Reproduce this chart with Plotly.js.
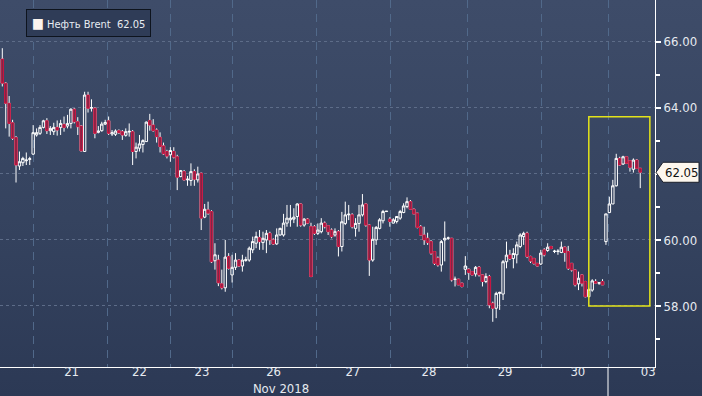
<!DOCTYPE html>
<html><head><meta charset="utf-8">
<script src="https://cdn.plot.ly/plotly-3.0.1.min.js"></script>
<style>
html,body{margin:0;padding:0;width:702px;height:396px;overflow:hidden;
background:linear-gradient(to bottom,#3e4c69 0%,#35435f 55%,#2c3955 100%);}
#chart{width:702px;height:396px;}
</style></head><body><div id="chart"></div>
<script>
// Hourly Brent candles, 20 Nov - 03 Dec 2018
const openP = [65.48,64.75,64.14,63.55,63.10,62.24,62.34,62.40,62.44,62.60,63.18,63.23,63.41,63.61,63.31,63.28,63.41,63.41,63.50,63.45,63.53,63.96,63.58,63.45,62.68,64.39,63.99,63.99,63.26,63.31,63.51,63.61,63.21,63.20,63.31,63.28,63.17,63.27,63.28,62.68,62.78,62.89,62.98,63.62,63.48,63.33,63.11,62.85,62.68,62.58,62.68,62.52,61.92,62.07,61.82,61.80,62.07,61.82,62.02,60.69,60.91,60.86,59.37,59.39,58.67,58.55,59.50,58.94,59.17,59.39,59.21,59.38,59.39,59.70,59.90,60.07,59.92,60.00,60.20,60.00,59.88,60.15,60.15,60.51,60.61,60.63,60.71,61.09,60.45,60.63,60.40,60.40,60.20,60.25,60.51,60.43,60.30,60.15,60.25,59.80,60.50,60.76,60.76,60.35,60.50,60.76,61.09,60.45,59.39,60.00,60.35,60.58,60.86,60.63,60.51,60.56,60.66,60.83,61.01,61.16,60.93,60.81,60.40,60.15,60.05,59.95,59.65,59.45,59.24,60.00,60.05,60.05,58.80,58.81,58.69,59.11,59.11,59.04,58.97,59.17,58.94,58.74,58.89,58.08,57.93,58.38,58.36,59.34,59.54,59.44,59.55,59.80,60.10,60.20,59.50,59.44,59.29,59.27,59.70,59.68,59.80,59.65,59.65,59.62,59.78,59.65,59.29,59.09,58.67,58.94,58.74,58.28,58.48,58.74,58.69,58.74,59.95,60.83,61.09,61.64,62.47,62.30,62.52,62.40,62.14,62.42,62.17];
const highP = [65.81,64.78,64.36,63.64,63.15,62.68,62.52,62.65,62.52,63.48,63.38,63.48,63.64,63.69,63.45,63.55,63.62,63.64,63.74,63.79,63.99,63.99,63.72,63.48,64.49,64.49,64.26,64.02,63.45,63.58,63.64,63.74,63.33,63.35,63.35,63.33,63.38,63.53,63.33,62.95,63.18,63.05,63.59,63.82,63.66,63.38,63.26,62.95,62.73,62.81,62.81,62.58,62.12,62.12,61.94,62.32,62.14,62.22,62.04,61.09,61.16,60.90,59.90,59.55,59.10,60.00,59.60,59.55,59.60,59.42,59.55,59.49,59.80,60.10,60.25,60.30,60.25,60.30,60.25,60.05,60.35,60.37,60.79,61.06,61.06,60.96,61.11,61.11,60.66,60.66,60.52,60.45,60.50,60.66,60.56,60.45,60.35,60.35,60.30,60.85,61.16,61.06,60.81,60.66,61.06,61.39,61.11,60.47,60.40,60.42,60.66,60.91,60.87,60.69,60.66,60.72,60.91,61.11,61.29,61.21,60.95,60.82,60.45,60.40,60.22,60.00,59.65,59.50,60.00,60.56,60.10,60.06,58.89,58.82,58.70,59.51,59.14,59.06,59.21,59.21,58.95,58.99,58.94,58.13,58.43,58.43,59.39,59.95,59.70,59.75,59.95,60.20,60.25,60.25,59.52,59.45,59.30,59.70,59.75,59.90,59.82,59.70,59.72,59.95,59.80,59.82,59.30,59.10,59.04,58.96,58.76,58.55,58.81,58.81,58.72,58.81,60.79,61.31,61.82,62.61,62.52,62.55,62.53,62.42,62.47,62.45,62.18];
const lowP = [64.65,63.38,63.13,63.03,61.74,62.12,62.24,62.27,62.27,62.58,63.13,63.18,63.38,63.21,63.18,63.18,63.16,63.18,63.28,63.38,63.38,63.53,63.18,62.68,62.68,63.86,63.89,63.08,63.23,63.28,63.48,63.18,63.15,63.15,63.21,63.03,63.13,63.13,62.27,62.47,62.68,62.65,62.98,63.31,63.28,62.95,62.65,62.58,62.47,62.37,62.47,61.51,61.90,61.80,61.64,61.64,61.64,61.74,60.30,60.66,60.76,59.30,59.10,58.60,58.50,58.43,59.10,58.71,59.09,59.18,59.04,59.34,59.34,59.60,59.75,59.70,59.70,59.60,59.85,59.85,59.85,60.13,60.10,60.40,60.40,60.51,60.40,60.40,60.40,60.48,58.89,60.15,60.15,60.20,60.35,60.15,60.05,60.10,59.50,59.65,60.45,60.60,60.35,60.10,60.25,60.71,60.40,58.91,59.34,59.85,60.32,60.50,60.85,60.40,60.50,60.50,60.61,60.81,60.96,60.91,60.79,60.35,60.15,59.85,59.85,59.55,59.24,59.19,59.04,59.35,60.00,58.74,58.59,58.64,58.56,58.94,58.79,58.93,58.89,58.89,58.59,58.69,57.93,57.52,57.63,57.88,58.18,59.14,59.39,59.14,59.29,59.75,59.85,59.45,59.30,59.25,59.20,59.24,59.50,59.64,59.72,59.60,59.55,59.60,59.34,59.09,59.04,58.59,58.48,58.59,58.26,58.26,58.43,58.69,58.64,58.64,59.85,60.81,61.09,61.62,62.25,62.27,62.32,62.07,62.04,62.17,61.57];
const closeP = [64.75,64.14,63.53,63.08,62.27,62.37,62.47,62.42,62.46,63.25,63.25,63.41,63.61,63.31,63.38,63.41,63.33,63.53,63.41,63.53,63.96,63.58,63.43,62.70,64.39,63.99,64.01,63.23,63.30,63.51,63.56,63.23,63.25,63.30,63.25,63.18,63.28,63.29,62.68,62.81,62.91,63.01,63.57,63.48,63.31,63.13,62.83,62.61,62.54,62.71,62.51,61.90,62.10,61.82,61.84,62.07,61.84,62.00,60.66,60.93,60.81,59.34,59.55,58.70,58.55,59.48,59.14,59.17,59.39,59.21,59.39,59.40,59.75,59.95,60.10,59.95,60.05,60.20,60.00,59.88,60.15,60.35,60.51,60.66,60.66,60.69,61.09,60.45,60.63,60.51,58.89,60.20,60.30,60.51,60.40,60.25,60.10,60.25,59.80,60.55,60.76,60.78,60.40,60.50,60.76,61.06,60.45,59.39,60.02,60.38,60.61,60.86,60.87,60.56,60.61,60.71,60.86,61.03,61.16,60.93,60.79,60.38,60.15,60.00,59.92,59.60,59.29,59.24,59.95,60.05,60.06,58.79,58.81,58.64,58.59,59.21,59.01,58.94,59.17,58.94,58.74,58.89,58.03,57.93,58.38,58.41,59.34,59.54,59.44,59.59,59.85,60.15,60.20,59.50,59.36,59.29,59.21,59.60,59.55,59.78,59.74,59.66,59.66,59.78,59.62,59.14,59.09,58.64,58.84,58.69,58.28,58.50,58.76,58.69,58.70,58.64,60.79,61.09,61.64,62.47,62.27,62.52,62.32,62.20,62.42,62.17,62.05];

// x-axis: day boundaries and day labels (in bar-index units)
const dayBoundaries = [9.1, 30.7, 48.9, 67.0, 91.5, 113.3, 135.5, 157.3, 176.6];
const dayLabelPos = [20.2, 40.0, 58.2, 79.1, 102.2, 124.4, 146.6, 167.8, 188.3];
const dayLabels = ['21', '22', '23', '26<br>\u00a0\u00a0\u00a0\u00a0Nov 2018', '27', '28', '29', '30', '03'];
const monthBoundary = 176.6;

// y-axis ticks
const yTicks = [58, 60, 62, 64, 66];
const yTickText = ['58.00', '60.00', '62.00', '64.00', '66.00'];
const yMinorTicks = [57, 59, 61, 63, 65];

const seriesName = 'Нефть Brent';
const lastPrice = 62.05;
// highlighted window (bar index / price)
const hlX0 = 171, hlX1 = 188.8, hlY0 = 58.0, hlY1 = 63.73;

const xs = openP.map((_, i) => i);
const dec = xs.filter(i => closeP[i] < openP[i]);

const FONT = '"Liberation Sans Narrow","DejaVu Sans Condensed","Liberation Sans",Arial,sans-serif';

const wicks = {
  type: 'candlestick', x: xs, open: openP, high: highP, low: lowP, close: closeP,
  increasing: {line: {color: '#ffffff', width: 1}, fillcolor: 'rgba(0,0,0,0)'},
  decreasing: {line: {color: '#ffffff', width: 1}, fillcolor: '#8c2a4c'},
  hoverinfo: 'skip', showlegend: false, name: seriesName
};
const redBodies = {
  type: 'candlestick', x: dec.map(i => i),
  open: dec.map(i => openP[i]), high: dec.map(i => openP[i]),
  low: dec.map(i => closeP[i]), close: dec.map(i => closeP[i]),
  increasing: {line: {color: '#c8133f', width: 1}, fillcolor: '#7f2747'},
  decreasing: {line: {color: '#c8133f', width: 1}, fillcolor: '#7f2747'},
  hoverinfo: 'skip', showlegend: false
};

const layout = {
  width: 702, height: 396,
  margin: {l: 0, r: 47, t: 0, b: 29, pad: 0},
  paper_bgcolor: 'rgba(0,0,0,0)', plot_bgcolor: 'rgba(0,0,0,0)',
  font: {family: FONT, size: 13, color: '#e6eaf0'},
  showlegend: false,
  boxgap: 0,
  xaxis: {
    range: [-0.67, 190.3], rangeslider: {visible: false},
    showline: true, linecolor: '#ffffff', linewidth: 1,
    tickmode: 'array', tickvals: dayLabelPos, ticktext: dayLabels,
    ticks: '', showgrid: false, zeroline: false, ticklabelstandoff: -8,
    tickfont: {family: FONT, size: 13, color: '#e6eaf0'},
    minor: {tickmode: 'array', tickvals: dayBoundaries, showgrid: true,
            gridcolor: '#51698a', griddash: '8px,6px', gridwidth: 1, ticks: ''},
    fixedrange: true
  },
  yaxis: {
    side: 'right', range: [56.15, 67.27],
    showline: true, linecolor: '#ffffff', linewidth: 1,
    tickmode: 'array', tickvals: yTicks, ticktext: yTickText,
    ticks: 'outside', ticklen: 5, tickwidth: 2, tickcolor: '#ffffff',
    tickfont: {family: FONT, size: 13, color: '#e6eaf0'},
    showgrid: true, gridcolor: '#5d6c88', griddash: '3px,3px', gridwidth: 1,
    zeroline: false,
    minor: {tickmode: 'array', tickvals: yMinorTicks, ticks: 'outside', ticklen: 4,
            tickcolor: '#ffffff', showgrid: false},
    fixedrange: true
  },
  shapes: [
    {type: 'rect', xref: 'x', yref: 'y', x0: hlX0, x1: hlX1, y0: hlY0, y1: hlY1,
     line: {color: '#e3e31a', width: 1.5}, fillcolor: 'rgba(0,0,0,0)', layer: 'above'},
    {type: 'line', xref: 'x', yref: 'paper', x0: monthBoundary, x1: monthBoundary, y0: 0, y1: -0.1,
     line: {color: '#ffffff', width: 1}},
    {type: 'path', xref: 'paper', yref: 'y', xsizemode: 'pixel', ysizemode: 'pixel',
     xanchor: 1, yanchor: lastPrice,
     path: 'M1,0 L8,10 L44,10 L44,-10 L8,-10 Z',
     fillcolor: '#fdf7ee', line: {color: '#1a1f2a', width: 1}, layer: 'above'}
  ],
  annotations: [
    {xref: 'paper', yref: 'y', x: 1, y: lastPrice, xanchor: 'left', yanchor: 'middle',
     xshift: 8, text: lastPrice.toFixed(2), showarrow: false,
     font: {family: FONT, size: 13, color: '#111111'}},
    {xref: 'paper', yref: 'paper', x: 26/655, y: 1 - 9/367, xanchor: 'left', yanchor: 'top',
     text: '<span style="font-size:14px;color:#fbf4ef">■</span> ' + seriesName + '  ' + lastPrice.toFixed(2),
     showarrow: false, align: 'left',
     bgcolor: '#2f3c57', bordercolor: '#0e141e', borderwidth: 1, borderpad: 5,
     font: {family: FONT, size: 11, color: '#e8ecf2'}}
  ]
};

Plotly.newPlot('chart', [wicks, redBodies], layout, {displayModeBar: false, staticPlot: true});
</script></body></html>
